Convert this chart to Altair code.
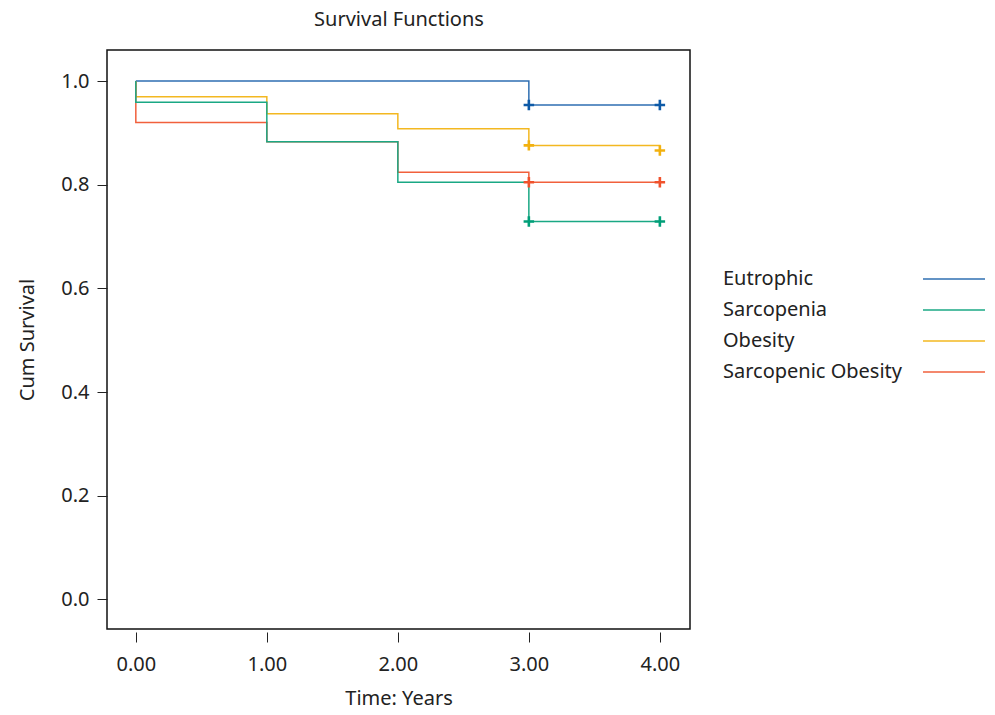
import altair as alt
import pandas as pd

# Legend / draw order
groups = ["Eutrophic", "Sarcopenia", "Obesity", "Sarcopenic Obesity"]
line_colors = ["#2f6fb2", "#1aa884", "#f3b821", "#f1603c"]
mark_colors = ["#0d5aa7", "#009f78", "#f2b10f", "#f0522c"]

# Step survival curves (time, cumulative survival)
eu_t = [0, 3, 4]
eu_s = [1.0, 0.954, 0.954]
sa_t = [0, 0, 1, 2, 3, 4]
sa_s = [1.0, 0.959, 0.883, 0.805, 0.729, 0.729]
ob_t = [0, 0, 1, 2, 3, 4]
ob_s = [1.0, 0.970, 0.937, 0.908, 0.876, 0.866]
so_t = [0, 0, 1, 2, 3, 4]
so_s = [1.0, 0.920, 0.883, 0.824, 0.805, 0.805]

# Censored observations
cen_eu_t, cen_eu_s = [3, 4], [0.954, 0.954]
cen_sa_t, cen_sa_s = [3, 4], [0.729, 0.729]
cen_ob_t, cen_ob_s = [3, 4], [0.876, 0.866]
cen_so_t, cen_so_s = [3, 4], [0.805, 0.805]

x_ticks = [0, 1, 2, 3, 4]
y_ticks = [0.0, 0.2, 0.4, 0.6, 0.8, 1.0]

# draw order (green on top)
series = [
    ("Eutrophic", eu_t, eu_s, 0),
    ("Obesity", ob_t, ob_s, 1),
    ("Sarcopenic Obesity", so_t, so_s, 2),
    ("Sarcopenia", sa_t, sa_s, 3),
]
rows = []
for name, ts, ss, o in series:
    for i, (t, s) in enumerate(zip(ts, ss)):
        rows.append({"series": name, "time": t, "surv": s, "ord": o, "i": i})
lines_df = pd.DataFrame(rows)

cens = [
    ("Eutrophic", cen_eu_t, cen_eu_s),
    ("Sarcopenia", cen_sa_t, cen_sa_s),
    ("Obesity", cen_ob_t, cen_ob_s),
    ("Sarcopenic Obesity", cen_so_t, cen_so_s),
]
crow = []
for name, ts, ss in cens:
    for t, s in zip(ts, ss):
        crow.append({"series": name, "time": t, "surv": s})
cens_df = pd.DataFrame(crow)

FONT = "Noto Sans"
TXT = "#222222"
FS = 20

xscale = alt.Scale(domain=[-0.22, 4.23], nice=False, zero=False)
yscale = alt.Scale(domain=[-0.057, 1.06], nice=False, zero=False)

xaxis = alt.Axis(values=x_ticks, format=".2f", title="Time: Years", grid=False,
                 domain=False, tickSize=10, offset=3, labelPadding=12,
                 labelFontSize=FS, titleFontSize=FS, titlePadding=14,
                 labelColor=TXT, titleColor=TXT, tickColor=TXT,
                 labelFont=FONT, titleFont=FONT, titleFontWeight="normal")
yaxis = alt.Axis(values=y_ticks, format=".1f", title="Cum Survival", grid=False,
                 domain=False, tickSize=10, labelPadding=8,
                 labelFontSize=FS, titleFontSize=FS, titlePadding=23,
                 labelColor=TXT, titleColor=TXT, tickColor=TXT,
                 labelFont=FONT, titleFont=FONT, titleFontWeight="normal")
# chart title carried by a top axis
topaxis = alt.Axis(orient="top", title="Survival Functions", labels=False, ticks=False,
                   domain=False, grid=False, titleFontSize=FS, titleFont=FONT,
                   titleFontWeight="normal", titleColor=TXT, titlePadding=21,
                   titleBaseline="bottom")

lines = alt.Chart(lines_df).mark_line(interpolate="step-after", strokeWidth=1.5).encode(
    x=alt.X("time:Q", scale=xscale, axis=xaxis),
    y=alt.Y("surv:Q", scale=yscale, axis=yaxis),
    color=alt.Color("series:N",
                    scale=alt.Scale(domain=groups, range=line_colors),
                    legend=alt.Legend(title=None, orient="none", legendX=602, legendY=219,
                                      symbolType="M-5.17,0H5.17", symbolSize=144,
                                      symbolStrokeWidth=1.5, labelFontSize=FS,
                                      labelFont=FONT, labelColor=TXT,
                                      labelOffset={"expr": "-241"}, symbolOffset=235,
                                      rowPadding=11, padding=0, labelLimit=400)),
    detail="ord:N",
    order="i:Q",
)

marks = alt.Chart(cens_df).mark_point(
    shape="M-1,0H1M0,-1V1", size=110, strokeWidth=2.6, filled=False, opacity=1
).encode(
    x=alt.X("time:Q", scale=xscale, axis=None),
    y=alt.Y("surv:Q", scale=yscale, axis=yaxis),
    stroke=alt.Stroke("series:N", scale=alt.Scale(domain=groups, range=mark_colors), legend=None),
)

title_layer = alt.Chart(cens_df).mark_point(opacity=0).encode(
    x=alt.X("time:Q", scale=xscale, axis=topaxis),
    y=alt.Y("surv:Q", scale=yscale, axis=yaxis),
)

chart = alt.layer(lines, marks, title_layer).resolve_axis(x="independent").properties(
    width=583, height=579,
    autosize=alt.AutoSizeParams(type="none"),
    padding={"left": 99, "top": 42, "right": 297, "bottom": 78},
    background="white",
).configure_view(stroke="#111111", strokeWidth=1.5)

chart.save("out.html", embed_options={"renderer": "svg", "actions": False})
